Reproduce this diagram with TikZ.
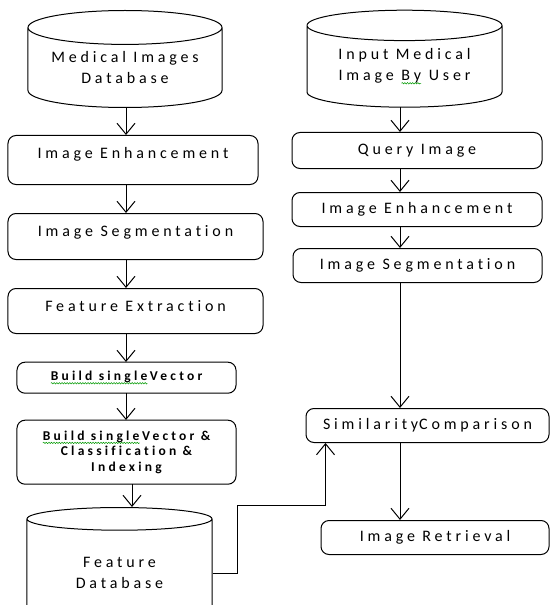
\documentclass[tikz,border=0pt]{standalone}
\usepackage{fontspec}
\setmainfont{Carlito}[LetterSpace=24,Ligatures={NoCommon,NoContextual}]
\usetikzlibrary{positioning,shapes.geometric,arrows.meta,decorations.pathmorphing}

\tikzset{
  spellnode/.style={shape=rectangle,draw=none,inner sep=0pt,outer sep=0pt,minimum width=0pt,
    minimum height=0pt,text height=,text depth=,align=none,anchor=base},
  spellline/.style={draw=green!60!black,sharp corners,line width=0.5bp,decorate,
    decoration={snake,amplitude=0.7bp,segment length=2.6bp}}
}
\newcommand{\spellmark}[1]{\tikz[baseline=(spw.base)]{\node[spellnode] (spw) {#1};\draw[spellline] ([yshift=-2.6bp]spw.base west) -- ([yshift=-2.6bp]spw.base east);}}

\begin{document}
\begin{tikzpicture}[x=1bp,y=-1bp,line width=1bp,
  font=\fontsize{16bp}{21bp}\selectfont,
  flow/.style={-{Straight Barb[length=11bp,width=18bp]}},
  dbcyl/.style={draw,cylinder,shape border rotate=90,aspect=0.23,inner sep=0pt,align=center,anchor=north},
  stepbox/.style={draw,rounded corners=8bp,inner sep=0pt,align=center,anchor=north},
  topbox/.style={stepbox,text height=23bp},
  smallbold/.style={font=\fontsize{13.5bp}{15.5bp}\selectfont\bfseries}]
\useasboundingbox (0,0) rectangle (550,605);
\clip (0,0) rectangle (550,605);
\coordinate (axisL) at (126,0);
\coordinate (axisR) at (400,0);
\coordinate (bend) at (237,505);
%% database side
\node (medDB) at (125,10) [dbcyl,minimum width=194bp,minimum height=97bp] {Medical Images\\Database};
\node (enhL) at (133,135) [topbox,minimum width=250bp,text depth=26bp] {Image Enhancement};
\node (segL) at (135.5,213) [topbox,minimum width=255bp,text depth=23bp] {Image Segmentation};
\node (featL) at (135.5,288) [topbox,minimum width=255bp,text depth=22bp] {Feature Extraction};
\node (vecL) at (126.5,362) [stepbox,smallbold,minimum width=219bp,minimum height=31bp] {\spellmark{Build single}\,Vector};
\node (clsL) at (126.5,420) [stepbox,smallbold,minimum width=219bp,minimum height=64bp] {\spellmark{Build single}\,Vector \&\\Classification \&\\Indexing};
\node (featDB) at (119.5,507) [dbcyl,aspect=0.26,minimum width=185bp,minimum height=118bp] {Feature\\Database};
%% query side
\node (inDB) at (404.5,10) [dbcyl,minimum width=195bp,minimum height=97bp] {Input Medical\\Image \spellmark{By} User};
\node (qryR) at (417,132) [stepbox,minimum width=250bp,minimum height=36bp] {Query Image};
\node (enhR) at (417,192) [stepbox,minimum width=250bp,minimum height=34bp] {Image Enhancement};
\node (segR) at (417.5,248) [stepbox,minimum width=249bp,minimum height=34bp] {Image Segmentation};
\node (simR) at (427.5,408) [stepbox,minimum width=243bp,minimum height=34bp] {Similarity{\kern1bp}Comparison};
\node (retR) at (435,520) [stepbox,minimum width=228bp,minimum height=34bp] {Image Retrieval};
%
\draw [flow] (medDB.south -| axisL) -- (enhL.north -| axisL);
\draw [flow] (enhL.south -| axisL) -- (segL.north -| axisL);
\draw [flow] (segL.south -| axisL) -- (featL.north -| axisL);
\draw [flow] (featL.south -| axisL) -- (vecL.north -| axisL);
\draw [flow] (vecL.south -| axisL) -- (clsL.north -| axisL);
\draw [flow] ([xshift=5.5bp]clsL.south) -- ([xshift=5.5bp]clsL.south |- featDB.north);
\draw [flow] (inDB.south -| axisR) -- (qryR.north -| axisR);
\draw [flow] (qryR.south -| axisR) -- (enhR.north -| axisR);
\draw [flow] (enhR.south -| axisR) -- (segR.north -| axisR);
\draw [flow] (segR.south -| axisR) -- (simR.north -| axisR);
\draw [flow] (simR.south -| axisR) -- (retR.north -| axisR);
\draw [flow] ([yshift=-1bp]featDB.east) -| (bend) -| ([xshift=20bp]simR.south west);
%
\end{tikzpicture}
\end{document}
